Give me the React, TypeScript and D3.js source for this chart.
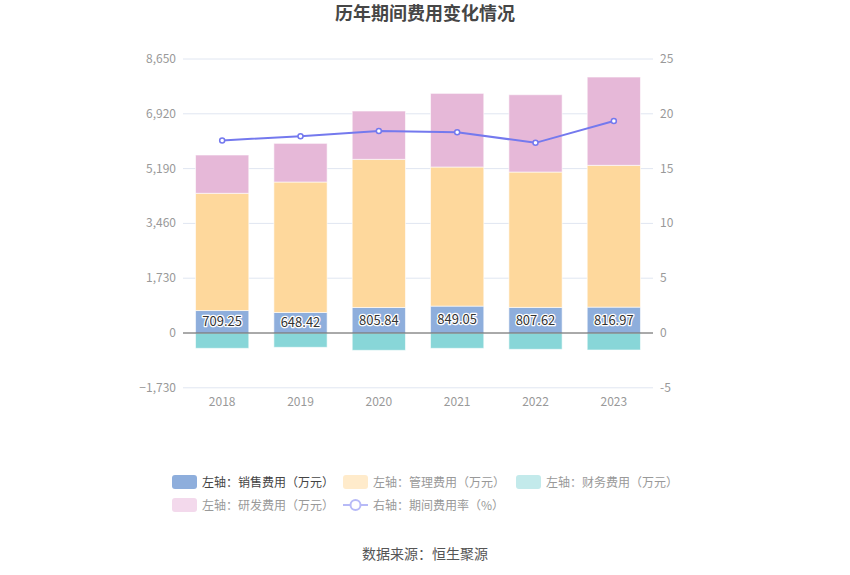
import React from "react";
import * as d3 from "d3";

const years = ["2018", "2019", "2020", "2021", "2022", "2023"];
const salesExp = [709.25, 648.42, 805.84, 849.05, 807.62, 816.97];
const mgmtExp = [3701, 4118, 4677, 4391, 4274, 4476];
const finExp = [-484, -452, -547, -484, -515, -537];
const rdExp = [1209, 1221, 1525, 2325, 2441, 2788];
const rateExp = [17.57, 17.96, 18.44, 18.32, 17.35, 19.35];
const leftTicks = [-1730, 0, 1730, 3460, 5190, 6920, 8650];
const rightTicks = [-5, 0, 5, 10, 15, 20, 25];

const W = 850;
const H = 575;
const FONT = "'Noto Sans CJK SC', 'Noto Sans', sans-serif";

export default function App() {
  const x = d3.scaleBand<string>().domain(years).range([183, 653]).paddingInner(0.32).paddingOuter(0.16);
  const yL = d3.scaleLinear().domain([-1730, 8650]).range([387.8, 59]);
  const yR = d3.scaleLinear().domain([-5, 25]).range([387.8, 59]);
  const fmt = d3.format(",");

  const line = d3
    .line<number>()
    .x((_, i) => (x(years[i]) as number) + x.bandwidth() / 2)
    .y((d) => yR(d));

  const bars: React.ReactNode[] = [];
  years.forEach((yr, i) => {
    const bx = x(yr) as number;
    const bw = x.bandwidth();
    const s1 = salesExp[i];
    const m1 = s1 + mgmtExp[i];
    const r1 = m1 + rdExp[i];
    const segs = [
      { a: 0, b: finExp[i], c: "#88D6D8" },
      { a: 0, b: s1, c: "#8EAEDC" },
      { a: s1, b: m1, c: "#FED89C" },
      { a: m1, b: r1, c: "#E6B8D8" },
    ];
    segs.forEach((sg, j) => {
      const y0 = yL(Math.max(sg.a, sg.b));
      const y1 = yL(Math.min(sg.a, sg.b));
      bars.push(
        <rect key={`${yr}-${j}`} x={bx} y={y0} width={bw} height={y1 - y0} fill={sg.c} stroke="#ffffff" strokeOpacity={0.6} strokeWidth={1} />
      );
    });
  });

  const legendRow1 = [
    { label: "左轴：销售费用（万元）", c: "#8EAEDC", tc: "#444", x: 172 },
    { label: "左轴：管理费用（万元）", c: "#FFEBCB", tc: "#999", x: 343 },
    { label: "左轴：财务费用（万元）", c: "#C3EAEB", tc: "#999", x: 516 },
  ];

  return (
    <svg width={W} height={H} style={{ display: "block", position: "absolute", left: 0, top: 0 }} fontFamily={FONT}>
      <rect x={0} y={0} width={W} height={H} fill="#ffffff" />
      <text x={425} y={20} textAnchor="middle" fontSize={18} fontWeight="bold" fill="#464646">
        历年期间费用变化情况
      </text>
      {leftTicks.map((t) => (
        <g key={`g${t}`}>
          {t !== 0 && <line x1={183} x2={653} y1={yL(t)} y2={yL(t)} stroke="#E0E6F1" strokeWidth={1} />}
          <text x={176} y={yL(t) + 4} textAnchor="end" fontSize={12} fill="#999">
            {fmt(t)}
          </text>
        </g>
      ))}
      {rightTicks.map((t) => (
        <text key={`r${t}`} x={660} y={yR(t) + 4} textAnchor="start" fontSize={12} fill="#999">
          {t}
        </text>
      ))}
      {bars}
      <line x1={183} x2={653} y1={yL(0)} y2={yL(0)} stroke="#555" strokeWidth={1} />
      {years.map((yr) => (
        <text key={`x${yr}`} x={(x(yr) as number) + x.bandwidth() / 2} y={406} textAnchor="middle" fontSize={12} fill="#999">
          {yr}
        </text>
      ))}
      {years.map((yr, i) => (
        <text
          key={`l${yr}`}
          x={(x(yr) as number) + x.bandwidth() / 2}
          y={yL(salesExp[i] / 2) + 4.5}
          textAnchor="middle"
          fontSize={13}
          fill="#333"
          stroke="#ffffff"
          strokeWidth={2.5}
          paintOrder="stroke"
          strokeLinejoin="round"
        >
          {salesExp[i].toFixed(2)}
        </text>
      ))}
      <path d={line(rateExp) || ""} fill="none" stroke="#7479EE" strokeWidth={2} />
      {rateExp.map((v, i) => (
        <circle key={`c${i}`} cx={(x(years[i]) as number) + x.bandwidth() / 2} cy={yR(v)} r={2.5} fill="#ffffff" stroke="#7479EE" strokeWidth={1.5} />
      ))}
      {legendRow1.map((l) => (
        <g key={l.label}>
          <rect x={l.x} y={475} width={25} height={14} rx={3} fill={l.c} />
          <text x={l.x + 30} y={486.5} fontSize={12} fill={l.tc}>
            {l.label}
          </text>
        </g>
      ))}
      <rect x={172} y={498} width={25} height={14} rx={3} fill="#F3D9EC" />
      <text x={202} y={509.5} fontSize={12} fill="#999">
        左轴：研发费用（万元）
      </text>
      <line x1={343} x2={368} y1={505} y2={505} stroke="#B7BAF7" strokeWidth={2} />
      <circle cx={355.5} cy={505} r={5} fill="#ffffff" stroke="#B7BAF7" strokeWidth={2} />
      <text x={373} y={509.5} fontSize={12} fill="#999">
        右轴：期间费用率（%）
      </text>
      <text x={425} y={559} textAnchor="middle" fontSize={14} fill="#555">
        数据来源：恒生聚源
      </text>
    </svg>
  );
}
